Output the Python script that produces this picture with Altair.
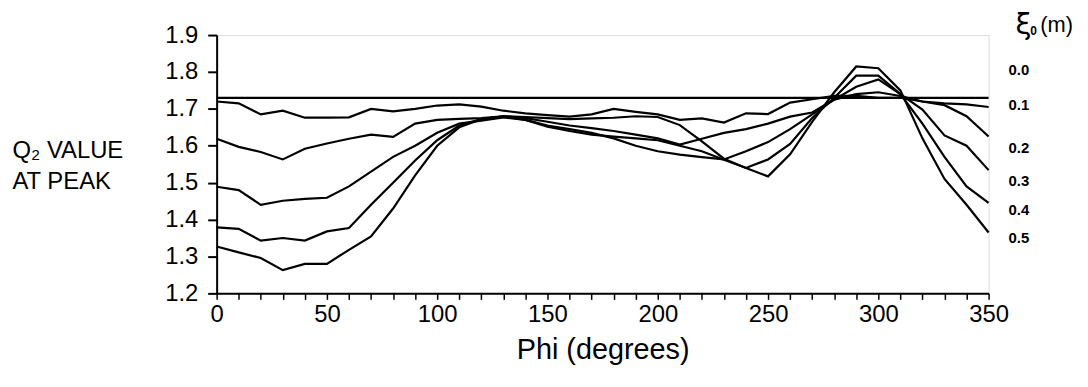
import altair as alt
import pandas as pd

phi = list(range(0, 360, 10))
xi_labels = ["0.0", "0.1", "0.2", "0.3", "0.4", "0.5"]

q2_00 = [1.73] * 36
q2_01 = [1.72, 1.715, 1.685, 1.695, 1.676, 1.676, 1.677, 1.70, 1.693, 1.70,
         1.709, 1.712, 1.706, 1.695, 1.688, 1.683, 1.679, 1.685, 1.70, 1.692,
         1.685, 1.67, 1.674, 1.663, 1.688, 1.686, 1.717, 1.726, 1.735, 1.735,
         1.73, 1.73, 1.72, 1.715, 1.712, 1.705]
q2_02 = [1.619, 1.597, 1.583, 1.563, 1.592, 1.606, 1.619, 1.630, 1.624, 1.66,
         1.670, 1.673, 1.675, 1.68, 1.675, 1.665, 1.655, 1.648, 1.64, 1.63,
         1.62, 1.603, 1.619, 1.635, 1.645, 1.66, 1.679, 1.69, 1.725, 1.74,
         1.745, 1.735, 1.72, 1.71, 1.68, 1.625]
q2_03 = [1.489, 1.480, 1.440, 1.451, 1.456, 1.459, 1.49, 1.53, 1.57, 1.60,
         1.635, 1.66, 1.668, 1.677, 1.67, 1.655, 1.645, 1.635, 1.62, 1.60,
         1.585, 1.576, 1.569, 1.563, 1.585, 1.61, 1.645, 1.685, 1.725, 1.76,
         1.78, 1.74, 1.698, 1.628, 1.60, 1.534]
q2_04 = [1.379, 1.375, 1.343, 1.35, 1.343, 1.368, 1.377, 1.44, 1.50, 1.56,
         1.615, 1.655, 1.672, 1.68, 1.67, 1.652, 1.64, 1.63, 1.625, 1.62,
         1.615, 1.60, 1.585, 1.562, 1.54, 1.563, 1.605, 1.675, 1.73, 1.79,
         1.79, 1.74, 1.66, 1.57, 1.49, 1.445]
q2_05 = [1.327, 1.311, 1.296, 1.263, 1.28, 1.28, 1.318, 1.354, 1.43, 1.52,
         1.60, 1.65, 1.672, 1.68, 1.678, 1.675, 1.672, 1.674, 1.676, 1.68,
         1.678, 1.656, 1.612, 1.565, 1.54, 1.517, 1.577, 1.665, 1.745, 1.815,
         1.81, 1.75, 1.62, 1.51, 1.44, 1.365]

# where each right-hand series label sits (Q2 value)
label_q2 = [1.805, 1.71, 1.595, 1.505, 1.425, 1.35]

y_ticks = [1.2, 1.3, 1.4, 1.5, 1.6, 1.7, 1.8, 1.9]
x_ticks = list(range(0, 360, 10))

series = [q2_00, q2_01, q2_02, q2_03, q2_04, q2_05]
rows = []
for name, vals in zip(xi_labels, series):
    for p, v in zip(phi, vals):
        rows.append({"xi": name, "phi": p, "q2": v})
df = pd.DataFrame(rows)
lab_df = pd.DataFrame({"xi": xi_labels, "phi": [350] * 6, "q2": label_q2})

FONT = "Liberation Sans Narrow, Liberation Sans, Arial, sans-serif"

x_axis = alt.Axis(
    values=x_ticks,
    labelExpr="datum.value % 50 === 0 ? datum.label : ''",
    tickSize=6,
    title="Phi (degrees)",
    titleFont=FONT, titleFontSize=29, titleFontWeight="normal", titleColor="black",
    titlePadding=10,
    labelFont=FONT, labelFontSize=24, labelColor="black", labelPadding=3,
    labelOverlap=False,
    domainColor="black", domainWidth=2, tickColor="black", tickWidth=1.5,
    grid=False, labelFlush=False,
)
y_axis = alt.Axis(
    values=y_ticks,
    format=".1f",
    title=["Q\u2082 VALUE", "AT PEAK"],
    titleAngle=0, titleAlign="left", titleBaseline="top",
    titleX=-206, titleY=104, titleLineHeight=31,
    titleFont=FONT, titleFontSize=24, titleFontWeight="normal", titleColor="black",
    labelFont=FONT, labelFontSize=24, labelColor="black", labelPadding=10,
    labelOverlap=False,
    tickSize=9, tickColor="black", tickWidth=2,
    domainColor="black", domainWidth=2, grid=False, labelFlush=False,
)

x_scale = alt.Scale(domain=[0, 350], nice=False, zero=False)
y_scale = alt.Scale(domain=[1.2, 1.9], nice=False, zero=False)

lines = alt.Chart(df).mark_line(color="black", strokeWidth=2.2, strokeJoin="miter").encode(
    x=alt.X("phi:Q", scale=x_scale, axis=x_axis),
    y=alt.Y("q2:Q", scale=y_scale, axis=y_axis),
    detail="xi:N", order="phi:Q",
)

labels = alt.Chart(lab_df).mark_text(
    align="left", baseline="middle", dx=20, font=FONT, fontSize=15, fontWeight="bold", color="black"
).encode(
    x=alt.X("phi:Q", scale=x_scale, axis=x_axis),
    y=alt.Y("q2:Q", scale=y_scale, axis=y_axis),
    text="xi:N",
)

xi_sym = alt.Chart(pd.DataFrame({"t": ["\u03be"]})).mark_text(
    align="left", baseline="middle", font="DejaVu Sans", fontSize=29, color="black"
).encode(x=alt.value(804), y=alt.value(-10), text="t:N")
xi_sub = alt.Chart(pd.DataFrame({"t": ["0"]})).mark_text(
    align="left", baseline="middle", font=FONT, fontSize=12, fontWeight="bold", color="black"
).encode(x=alt.value(819), y=alt.value(-4), text="t:N")
xi_unit = alt.Chart(pd.DataFrame({"t": ["(m)"]})).mark_text(
    align="left", baseline="middle", font=FONT, fontSize=22, color="black"
).encode(x=alt.value(829), y=alt.value(-10), text="t:N")

chart = alt.layer(lines, labels, xi_sym, xi_sub, xi_unit).properties(
    width=777, height=260,
    autosize=alt.AutoSizeParams(type="none"),
    padding={"left": 210, "top": 26, "right": 92, "bottom": 92},
).configure_view(strokeWidth=0).configure(background="white")

chart.save("out.html", embed_options={"renderer": "svg", "actions": False})
